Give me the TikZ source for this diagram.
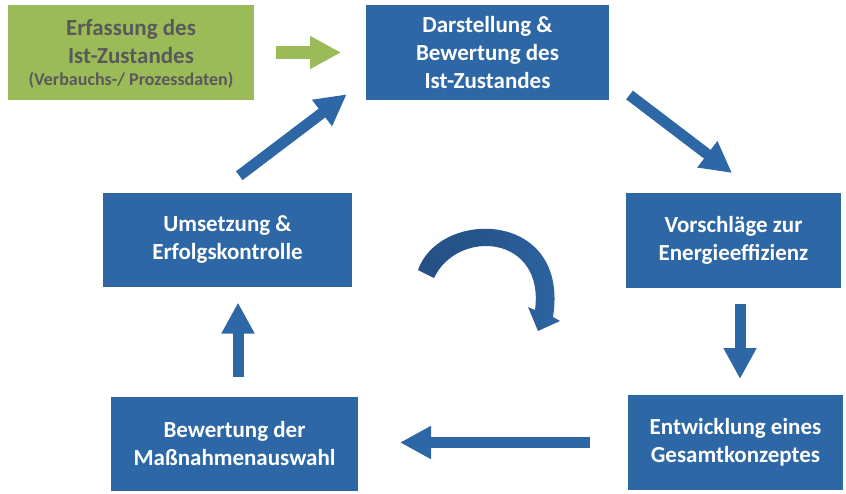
\documentclass[tikz,border=0pt]{standalone}
\usepackage{fontspec}
\setmainfont{Carlito}
\usetikzlibrary{arrows.meta}
\definecolor{boxblue}{RGB}{46,103,166}
\definecolor{darkblue}{RGB}{36,80,132}
\definecolor{boxgreen}{RGB}{155,187,89}
\definecolor{txtgray}{RGB}{89,89,89}
\tikzset{
  bluebox/.style={rectangle, fill=boxblue, draw=none, inner sep=0pt, outer sep=0pt,
    text=white, align=center, font=\bfseries\fontsize{23}{28}\selectfont},
  greenbox/.style={rectangle, fill=boxgreen, draw=none, inner sep=0pt, outer sep=0pt},
  graytext/.style={text=txtgray, inner sep=0pt, anchor=base},
  blockarrow/.style={draw=boxblue, line width=11pt, -{Triangle[width=31pt,length=31pt]}, boxblue},
  greenarrow/.style={draw=boxgreen, line width=13pt, -{Triangle[width=31pt,length=31pt]}, boxgreen}
}
\begin{document}
\begin{tikzpicture}[x=1pt,y=-1pt]
\useasboundingbox (0,0) rectangle (846,493);
% boxes
\node[greenbox, minimum width=246pt, minimum height=95pt] (erf) at (131,52.5) {};
\node[graytext, font=\bfseries\fontsize{23}{28}\selectfont] (erf1) at (131,35) {Erfassung des};
\node[graytext, font=\bfseries\fontsize{23}{28}\selectfont] (erf2) at (131,63) {Ist-Zustandes};
\node[graytext, font=\bfseries\fontsize{18}{22}\selectfont] (erf3) at (131,85.5) {(Verbauchs-/ Prozessdaten)};
\node[bluebox, minimum width=243pt, minimum height=95pt] (dar) at (487.5,52.5) {Darstellung \&\\Bewertung des\\Ist-Zustandes};
\node[bluebox, minimum width=215pt, minimum height=95pt] (vor) at (733.5,240.5) {Vorschläge zur\\Energieeffizienz};
\node[bluebox, minimum width=215pt, minimum height=95pt] (ent) at (735.5,442.5) {Entwicklung eines\\Gesamtkonzeptes};
\node[bluebox, minimum width=247pt, minimum height=94pt] (bew) at (234.5,444) {Bewertung der\\Maßnahmenauswahl};
\node[bluebox, minimum width=249pt, minimum height=94pt] (ums) at (227.5,240) {Umsetzung \&\\Erfolgskontrolle};
% arrow end points
\coordinate (g1) at (276,52.5);
\coordinate (g2) at (341,52.5);
\coordinate (d1) at (629.5,95);
\coordinate (d2) at (732,173);
\coordinate (v1) at (740,304);
\coordinate (v2) at (740,379);
\coordinate (l1) at (590,442.5);
\coordinate (l2) at (400,442.5);
\coordinate (u1) at (238,377);
\coordinate (u2) at (238,302.5);
\coordinate (q1) at (239.3,175.7);
\coordinate (q2) at (346.7,94.3);
% arrows
\draw[greenarrow] (g1) -- (g2);
\draw[blockarrow] (d1) -- (d2);
\draw[blockarrow] (v1) -- (v2);
\draw[blockarrow] (l1) -- (l2);
\draw[blockarrow] (u1) -- (u2);
\draw[blockarrow] (q1) -- (q2);
% curved arrow
\shade[left color=darkblue, right color=boxblue, middle color=darkblue!70!boxblue]
  (418,270) .. controls (440,208) and (570,210) .. (553,317)
  -- (560,321) -- (538,331) -- (528,307) -- (535,310)
  .. controls (545,235) and (458,228) .. (434,278) -- cycle;
\end{tikzpicture}
\end{document}
